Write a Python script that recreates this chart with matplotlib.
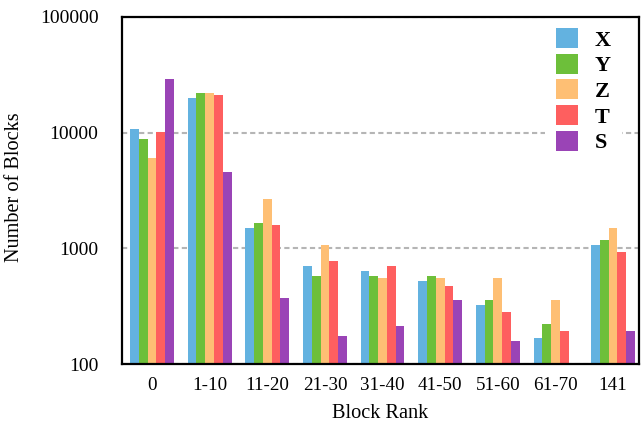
import numpy as np
import matplotlib
matplotlib.use("Agg")
import matplotlib.pyplot as plt
from matplotlib.ticker import FixedLocator, NullLocator, FixedFormatter

categories = ["0", "1-10", "11-20", "21-30", "31-40", "41-50", "51-60", "61-70", "141"]
series_names = ["X", "Y", "Z", "T", "S"]
X = [10700, 20000, 1500, 700, 637, 522, 324, 168, 1068]
Y = [8800, 22000, 1655, 577, 577, 577, 357, 222, 1180]
Z = [6050, 22000, 2670, 1068, 554, 554, 554, 357, 1500]
T = [10100, 21200, 1590, 777, 703, 472, 282, 193, 930]
S = [29100, 4570, 372, 175, 213, 357, 158, np.nan, 193]
series = [X, Y, Z, T, S]
colors = ["#63B2E0", "#6DBF3A", "#FEBF74", "#FE5F5F", "#9A44B6"]
ytick_vals = [100, 1000, 10000, 100000]
ytick_labels = ["100", "1000", "10000", "100000"]

plt.rcParams['font.family'] = ['Liberation Serif', 'DejaVu Serif']

fig = plt.figure(figsize=(6.41, 4.23), dpi=100)
ax = fig.add_axes([122/641, 1-364/423, (639-122)/641, (364-17)/423])

x = np.arange(len(categories))
w = 0.152
for i, (vals, name, c) in enumerate(zip(series, series_names, colors)):
    ax.bar(x + (i - 2) * w, vals, width=w, color=c, label=name, zorder=3, linewidth=0)

ax.set_yscale('log')
ax.set_ylim(100, 100000)
ax.set_xlim(-0.52, 8.45)
ax.yaxis.set_major_locator(FixedLocator(ytick_vals))
ax.yaxis.set_major_formatter(FixedFormatter(ytick_labels))
ax.yaxis.set_minor_locator(NullLocator())
ax.set_xticks(x)
ax.set_xticklabels(categories)
ax.tick_params(axis='y', length=0, pad=17, labelsize=14)
ax.tick_params(axis='x', length=0, pad=9, labelsize=13.7)
ax.grid(axis='y', which='major', linestyle=(0, (2.5, 1.6)), color='#b5b5b5', linewidth=1.5, zorder=0)
ax.set_axisbelow(True)
for s in ax.spines.values():
    s.set_linewidth(1.6)
    s.set_color('black')
    s.set_zorder(10)

ax.set_ylabel("Number of Blocks", fontsize=14.6)
ax.yaxis.set_label_coords(-0.19, 0.51)
ax.set_xlabel("Block Rank", fontsize=14.6)
ax.xaxis.set_label_coords(0.5, -0.115)

leg = ax.legend(loc='upper left', bbox_to_anchor=(0.818, 1.0), prop={'weight': 'bold', 'size': 16},
                frameon=True, fancybox=False, edgecolor='none', facecolor='white', framealpha=1,
                handlelength=1.0, handleheight=1.0, labelspacing=0.14, handletextpad=0.75,
                borderpad=0.5, borderaxespad=0)
leg.set_zorder(5)

fig.savefig("out.png", dpi=100)
